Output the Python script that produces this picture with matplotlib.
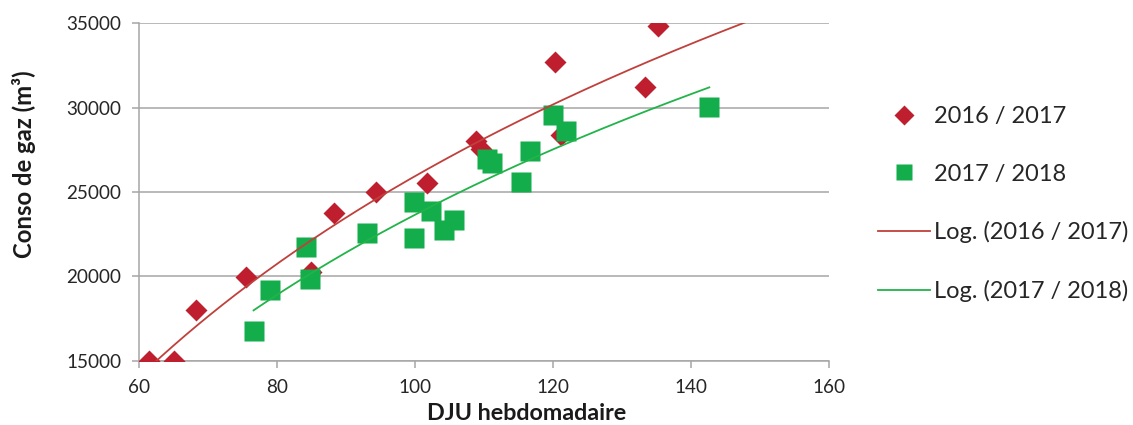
import numpy as np
import matplotlib
matplotlib.use("Agg")
import matplotlib.pyplot as plt

# ---------------- data ----------------
dju_1617 = [61.4, 65.0, 68.2, 75.5, 84.9, 88.3, 94.4, 101.7, 108.9, 109.5,
            120.3, 121.2, 133.3, 135.2]
gaz_1617 = [15000, 15000, 18000, 19980, 20250, 23730, 25010, 25510, 28050, 27550,
            32710, 28400, 31230, 34830]

dju_1718 = [76.6, 79.0, 84.2, 84.8, 93.1, 99.9, 99.9, 102.3, 104.2, 105.7,
            110.5, 111.1, 115.3, 116.6, 120.0, 121.9, 142.65]
gaz_1718 = [16760, 19190, 21720, 19820, 22550, 24380, 22250, 23900, 22725, 23320,
            26930, 26750, 25570, 27460, 29540, 28590, 30070]

labels = ['2016 / 2017', '2017 / 2018', 'Log. (2016 / 2017)', 'Log. (2017 / 2018)']
red_trend_end = 150

plt.rcParams['font.family'] = ['Lato', 'DejaVu Sans']

fig = plt.figure(figsize=(11.33, 4.25), dpi=100)
ax = fig.add_axes([0.1227, 0.1513, 0.6090, 0.7937])

red = '#be1e2d'
green = '#13ad4b'
grid_col = '#a6a6a6'

# ---- scatter points
ax.plot(dju_1617, gaz_1617, 'D', color=red, ms=11, mec='none', zorder=3, label=labels[0])
ax.plot(dju_1718, gaz_1718, 's', color=green, ms=13.7, mec='none', zorder=4, label=labels[1])

# ---- logarithmic trend lines (least squares on ln x)
a1, b1 = np.polyfit(np.log(dju_1617), gaz_1617, 1)
xr = np.linspace(min(dju_1617), red_trend_end, 200)
ax.plot(xr, a1 * np.log(xr) + b1, color='#c0403c', lw=1.3, zorder=5, label=labels[2])

a2, b2 = np.polyfit(np.log(dju_1718), gaz_1718, 1)
xg = np.linspace(min(dju_1718), max(dju_1718), 200)
ax.plot(xg, a2 * np.log(xg) + b2, color='#22b34a', lw=1.3, zorder=5, label=labels[3])

# ---- axes styling
ax.set_xlim(60, 160)
ax.set_ylim(15000, 35000)
ax.set_xticks(np.arange(60, 161, 20))
ax.set_yticks(np.arange(15000, 35001, 5000))
ax.yaxis.grid(True, color=grid_col, lw=1.1)
ax.set_axisbelow(True)
for s in ['top', 'right']:
    ax.spines[s].set_visible(False)
for s in ['left', 'bottom']:
    ax.spines[s].set_color(grid_col)
    ax.spines[s].set_linewidth(1.1)
ax.tick_params(axis='both', direction='out', length=5, width=1.1, color=grid_col,
               labelsize=13.6, labelcolor='#262626')
ax.tick_params(axis='y', pad=8)
ax.tick_params(axis='x', pad=8)

fig.text(0.465, 0.028, 'DJU hebdomadaire', ha='center', va='center',
         fontsize=16.8, fontweight='bold', color='#1a1a1a')
fig.text(0.021, 0.613, 'Conso de gaz (m³)', ha='center', va='center', rotation=90,
         fontsize=17.2, fontweight='bold', color='#1a1a1a')

leg = ax.legend(loc='center left', bbox_to_anchor=(0.767, 0.52), bbox_transform=fig.transFigure,
                frameon=False, fontsize=17, handlelength=2.17, handletextpad=0.18,
                labelspacing=1.55, borderaxespad=0)
for t in leg.get_texts():
    t.set_color('#262626')
leg.legend_handles[0].set_markersize(10.2)
leg.legend_handles[1].set_markersize(11.5)

fig.savefig('out.png', dpi=100)
